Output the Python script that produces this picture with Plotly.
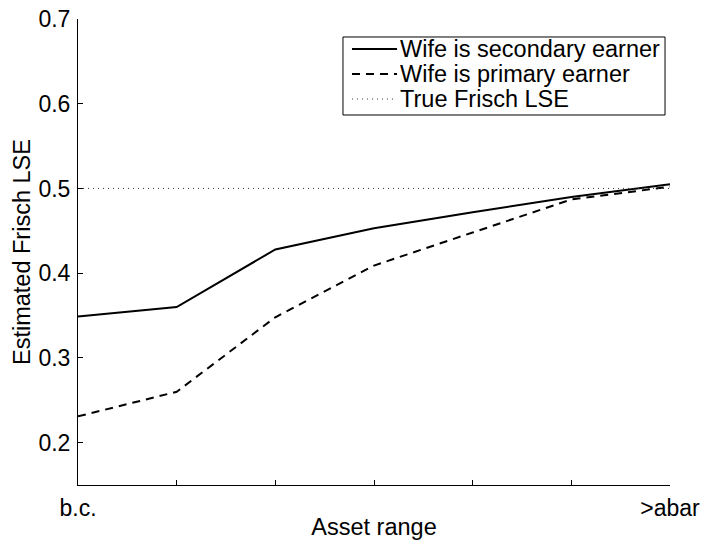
import plotly.graph_objects as go

categories = ["b.c.", "", "", "", "", "", ">abar"]
secondary = [0.349, 0.360, 0.428, 0.453, 0.472, 0.490, 0.505]
primary = [0.231, 0.260, 0.348, 0.409, 0.448, 0.487, 0.502]
true_lse = [0.5, 0.5, 0.5, 0.5, 0.5, 0.5, 0.5]
series_names = ["Wife is secondary earner", "Wife is primary earner", "True Frisch LSE"]
y_title = "Estimated Frisch LSE"
x_title = "Asset range"
xpos = list(range(len(categories)))

FAM = "Liberation Sans"
SIZE = 23.5
styles = [
    dict(color="black", width=2, dash="solid"),
    dict(color="black", width=2, dash="8px,6px"),
    dict(color="#333333", width=1, dash="1px,4px"),
]

fig = go.Figure()
for ys, name, st in zip([secondary, primary, true_lse], series_names, styles):
    fig.add_trace(go.Scatter(x=xpos, y=ys, mode="lines", name=name,
                             line=st, showlegend=False, hoverinfo="skip"))

# Manual legend (MATLAB-style compact box)
fig.add_shape(type="rect", xref="paper", yref="paper",
              x0=0.4476, x1=0.9916, y0=0.794, y1=0.9614,
              line=dict(color="black", width=1), fillcolor="white", layer="above")
leg_y = [0.9356, 0.882, 0.8283]
for name, st, yy in zip(series_names, styles, leg_y):
    fig.add_shape(type="line", xref="paper", yref="paper",
                  x0=0.4628, x1=0.5389, y0=yy, y1=yy, line=st, layer="above")
    fig.add_annotation(xref="paper", yref="paper", x=0.5406, y=yy,
                       xanchor="left", yanchor="middle", text=name, showarrow=False,
                       font=dict(family=FAM, size=SIZE, color="black"))

# y-axis title placed like MATLAB
fig.add_annotation(xref="paper", yref="paper", x=-0.0946, y=0.5,
                   xanchor="center", yanchor="middle", textangle=-90,
                   text=y_title, showarrow=False,
                   font=dict(family=FAM, size=SIZE, color="black"))

font = dict(family=FAM, size=SIZE, color="black")
tickfont = dict(family=FAM, size=23, color="black")
fig.update_layout(
    width=702, height=540,
    margin=dict(l=78, r=32, t=19, b=55),
    paper_bgcolor="white", plot_bgcolor="white",
    font=font,
    showlegend=False,
    xaxis=dict(range=[0, 6], tickvals=xpos, ticktext=categories,
               ticks="inside", ticklen=5, tickcolor="black", tickfont=tickfont,
               showline=True, linecolor="black", linewidth=1, mirror=False,
               showgrid=False, zeroline=False, automargin=False,
               ticklabelstandoff=2,
               title=dict(text=x_title, standoff=0, font=font)),
    yaxis=dict(range=[0.15, 0.7], tickvals=[0.2, 0.3, 0.4, 0.5, 0.6, 0.7],
               ticktext=["0.2", "0.3", "0.4", "0.5", "0.6", "0.7"],
               ticks="inside", ticklen=5, tickcolor="black", tickfont=tickfont,
               showline=True, linecolor="black", linewidth=1, mirror=False,
               showgrid=False, zeroline=False, automargin=False,
               ticklabelstandoff=2),
)
fig.write_html("out.html", config={"displayModeBar": False},
               post_script="document.body.style.margin='0';")
